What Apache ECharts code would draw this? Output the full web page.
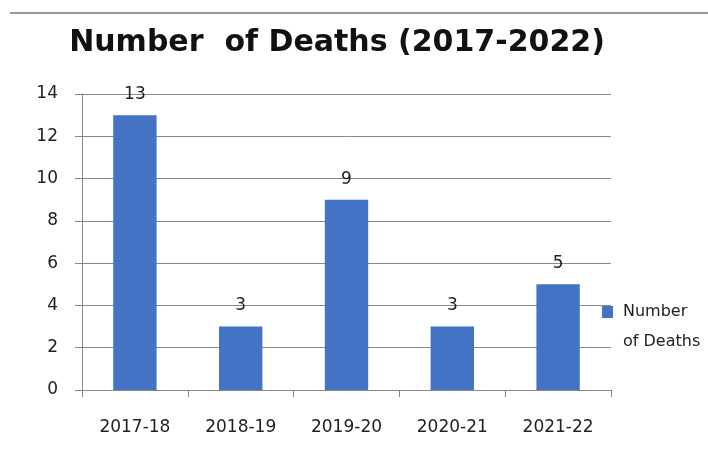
<!DOCTYPE html>
<html><head><meta charset="utf-8">
<script src="https://cdn.jsdelivr.net/npm/echarts@6/dist/echarts.min.js"></script>
<style>html,body{margin:0;padding:0;background:#fff}#c{width:708px;height:460px}</style>
</head><body><div id="c"></div>
<script>
const categories = ['2017-18','2018-19','2019-20','2020-21','2021-22'];
const deaths = [13,3,9,3,5];
const seriesName = 'Number of Deaths';
const legendLines = ['Number','of Deaths'];
const FONT = 'DejaVu Sans';
const chart = echarts.init(document.getElementById('c'), null, {renderer:'canvas'});
chart.setOption({
  animation:false,
  backgroundColor:'#fff',
  title:{text:'Number  of Deaths (2017-2022)', left:332, textAlign:'center', top:23,
    textStyle:{fontFamily:FONT, fontWeight:'bold', fontSize:30, color:'#111'}},
  graphic:[
    {type:'line', shape:{x1:10,y1:13,x2:708,y2:13}, style:{stroke:'#999', lineWidth:2}},
    {type:'text', left:623, top:334, style:{text:legendLines[1], font:'16px "DejaVu Sans"', fill:'#222'}}
  ],
  grid:{left:82, right:97, top:94, bottom:70},
  legend:{orient:'vertical', left:602, top:304, padding:0, itemWidth:11, itemHeight:12, icon:'rect',
    formatter:()=>legendLines[0],
    textStyle:{fontFamily:FONT, fontSize:16, color:'#222', lineHeight:16, padding:[0,0,0,5]}},
  xAxis:{type:'category', data:categories,
    axisLine:{lineStyle:{color:'#888'}},
    axisTick:{show:true, length:7, lineStyle:{color:'#888'}},
    axisLabel:{fontFamily:FONT, fontSize:17, color:'#222', margin:29}},
  yAxis:{type:'value', min:0, max:14, interval:2,
    axisLine:{show:true, lineStyle:{color:'#888'}},
    axisTick:{show:true, length:7, lineStyle:{color:'#888'}},
    splitLine:{lineStyle:{color:'#888'}},
    axisLabel:{fontFamily:FONT, fontSize:17, color:'#222', margin:24}},
  series:[{name:seriesName, type:'bar', data:deaths, barWidth:'41%',
    itemStyle:{color:'#4472C4'},
    label:{show:true, position:'top', distance:12, fontFamily:FONT, fontSize:17, color:'#222'}}]
});
</script></body></html>
